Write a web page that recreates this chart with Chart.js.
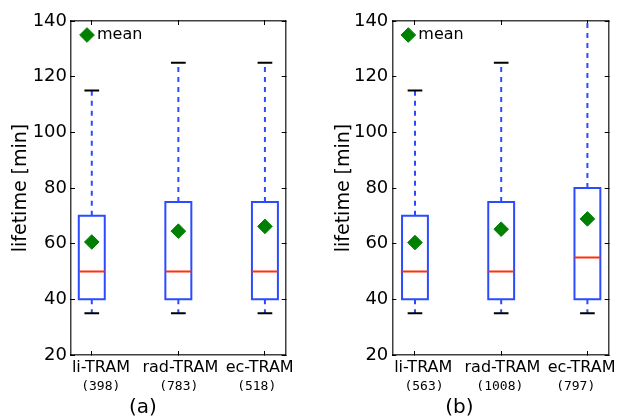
<!DOCTYPE html>
<html><head><meta charset="utf-8">
<script src="https://cdn.jsdelivr.net/npm/chart.js@4.4.0/dist/chart.umd.min.js"></script>
<style>
html,body{margin:0;padding:0;background:#fff;}
#wrap{position:relative;width:620px;height:418px;overflow:hidden;}
canvas{position:absolute;top:0;}
</style></head><body>
<div id="wrap">
<canvas id="ca" width="310" height="418" style="left:0"></canvas>
<canvas id="cb" width="310" height="418" style="left:310px"></canvas>
</div>
<script>
// ---- data ----
const categories = ['li-TRAM', 'rad-TRAM', 'ec-TRAM'];
const countsA = ['(398)', '(783)', '(518)'];
const countsB = ['(563)', '(1008)', '(797)'];
const lowA    = [35, 35, 35];
const q1A     = [40, 40, 40];
const medianA = [50, 50, 50];
const q3A     = [70, 75, 75];
const highA   = [115, 125, 125];
const meanA   = [60.6, 64.5, 66.2];
const lowB    = [35, 35, 35];
const q1B     = [40, 40, 40];
const medianB = [50, 50, 55];
const q3B     = [70, 75, 80];
const highB   = [115, 125, 150];
const meanB   = [60.4, 65.2, 68.9];
const yMin = 20, yMax = 140, yStep = 20;
const panelTitles = ['(a)', '(b)'];
const meanLabel = 'mean';
const yTitle = 'lifetime [min]';

// ---- styles / layout ----
const FONT = 'DejaVu Sans';
const BLUE = '#2a4bff', RED = '#ff3010', GREEN = '#008000', FRAME = 'rgba(0,0,0,0.75)';
const BOX_HW = 0.15, CAP_HW = 0.085;
const layoutA = {left: 71, padRight: 24.3, titlePad: 9.6,
                 xlim: [0.76, 3.24], nameLim: [0.622, 3.328], countLim: [0.618, 3.372]};
const layoutB = {left: 82.3, padRight: 11.2, titlePad: 23.1,
                 xlim: [0.737, 3.247], nameLim: [0.609, 3.342], countLim: [0.582, 3.435]};

function joinSegs(list) {
  const out = [];
  list.forEach((pts, i) => { if (i) out.push({x: pts[0].x, y: null}); out.push(...pts); });
  return out;
}

function makePanel(id, s, L) {
  const pos = categories.map((_, i) => i + 1);
  const boxes = joinSegs(pos.map((c, i) => [
    {x: c - BOX_HW, y: s.q1[i]}, {x: c + BOX_HW, y: s.q1[i]}, {x: c + BOX_HW, y: s.q3[i]},
    {x: c - BOX_HW, y: s.q3[i]}, {x: c - BOX_HW, y: s.q1[i]}]));
  const whiskers = joinSegs(pos.flatMap((c, i) => [
    [{x: c, y: s.q3[i]}, {x: c, y: s.high[i]}],
    [{x: c, y: s.q1[i]}, {x: c, y: s.low[i]}]]));
  const caps = joinSegs(pos.flatMap((c, i) => [
    [{x: c - CAP_HW, y: s.high[i]}, {x: c + CAP_HW, y: s.high[i]}],
    [{x: c - CAP_HW, y: s.low[i]}, {x: c + CAP_HW, y: s.low[i]}]]));
  const medians = joinSegs(pos.map((c, i) => [{x: c - BOX_HW, y: s.median[i]}, {x: c + BOX_HW, y: s.median[i]}]));
  const means = pos.map((c, i) => ({x: c, y: s.mean[i]}));

  const lineDs = (data, color, extra) => Object.assign({
    type: 'scatter', label: '', data, showLine: true, borderColor: color, borderWidth: 2,
    pointRadius: 0, fill: false, spanGaps: false, order: 2
  }, extra || {});

  const tickTicks = (scale) => { scale.ticks = pos.map(v => ({value: v})); };
  const gridIn = {drawOnChartArea: false, drawTicks: true, tickLength: -4, tickWidth: 1, tickColor: '#000'};
  const noGrid = {display: false, drawTicks: false};
  const border = {display: true, color: FRAME, width: 1.5};

  new Chart(document.getElementById(id), {
    data: {
      datasets: [
        {type: 'scatter', label: meanLabel, data: means, pointStyle: 'rectRot', pointRadius: 7.3,
         pointBackgroundColor: GREEN, pointBorderColor: GREEN, backgroundColor: GREEN, borderColor: GREEN,
         pointBorderWidth: 1, order: 0},
        lineDs(medians, RED, {order: 1}),
        lineDs(boxes, BLUE, {borderCapStyle: 'square', order: 2}),
        lineDs(whiskers, BLUE, {borderDash: [5, 5], order: 3}),
        lineDs(caps, '#000', {order: 2})
      ]
    },
    options: {
      responsive: false, animation: false, events: [],
      layout: {padding: {left: 0, right: L.padRight, top: 21, bottom: 0}},
      scales: {
        x: {type: 'linear', position: 'bottom', min: L.xlim[0], max: L.xlim[1], weight: 0,
            afterBuildTicks: tickTicks, afterFit: sc => { sc.height = 0; },
            ticks: {display: false}, grid: gridIn, border: border},
        xl: {type: 'linear', position: 'bottom', min: L.nameLim[0], max: L.nameLim[1], weight: 1,
             afterBuildTicks: tickTicks, afterFit: sc => { sc.height = 22; },
             ticks: {callback: (v, i) => categories[i], color: '#000', padding: 3, maxRotation: 0,
                     autoSkip: false, font: {family: FONT, size: 16}},
             grid: noGrid, border: {display: false}},
        x2: {type: 'linear', position: 'bottom', min: L.countLim[0], max: L.countLim[1], weight: 2,
             afterBuildTicks: tickTicks, afterFit: sc => { sc.height = 21; },
             ticks: {callback: (v, i) => s.counts[i], color: '#000', padding: 1.5, maxRotation: 0,
                     autoSkip: false, font: {family: 'DejaVu Sans Mono', size: 13}},
             grid: noGrid, border: {display: false}},
        xTop: {type: 'linear', position: 'top', min: L.xlim[0], max: L.xlim[1],
               afterBuildTicks: tickTicks, afterFit: sc => { sc.height = 0; },
               ticks: {display: false}, grid: gridIn, border: border},
        y: {type: 'linear', position: 'left', min: yMin, max: yMax,
            afterFit: sc => { sc.width = L.left; },
            ticks: {stepSize: yStep, color: '#000', padding: 8, font: {family: FONT, size: 18}},
            grid: gridIn, border: border,
            title: {display: true, text: yTitle, color: '#000', font: {family: FONT, size: 19, lineHeight: 1.2},
                    padding: {top: L.titlePad, bottom: 0}}},
        yRight: {type: 'linear', position: 'right', min: yMin, max: yMax,
                 afterFit: sc => { sc.width = 0; },
                 ticks: {stepSize: yStep, display: false}, grid: gridIn, border: border}
      },
      plugins: {
        tooltip: {enabled: false},
        legend: {position: 'chartArea', align: 'start',
                 title: {display: true, text: '', font: {size: 10, lineHeight: 1}, padding: {top: 3, bottom: 0}},
                 labels: {usePointStyle: true, boxWidth: 4, boxHeight: 10.4, padding: 14, color: '#000',
                          font: {family: FONT, size: 16}, filter: it => it.text === meanLabel}},
        title: {display: true, text: s.title, position: 'bottom', color: '#000',
                font: {family: FONT, size: 20, weight: 'normal', lineHeight: 1}, padding: 0}
      }
    }
  });
}

makePanel('ca', {low: lowA, q1: q1A, median: medianA, q3: q3A, high: highA, mean: meanA,
                 counts: countsA, title: panelTitles[0]}, layoutA);
makePanel('cb', {low: lowB, q1: q1B, median: medianB, q3: q3B, high: highB, mean: meanB,
                 counts: countsB, title: panelTitles[1]}, layoutB);
</script>
</body></html>
